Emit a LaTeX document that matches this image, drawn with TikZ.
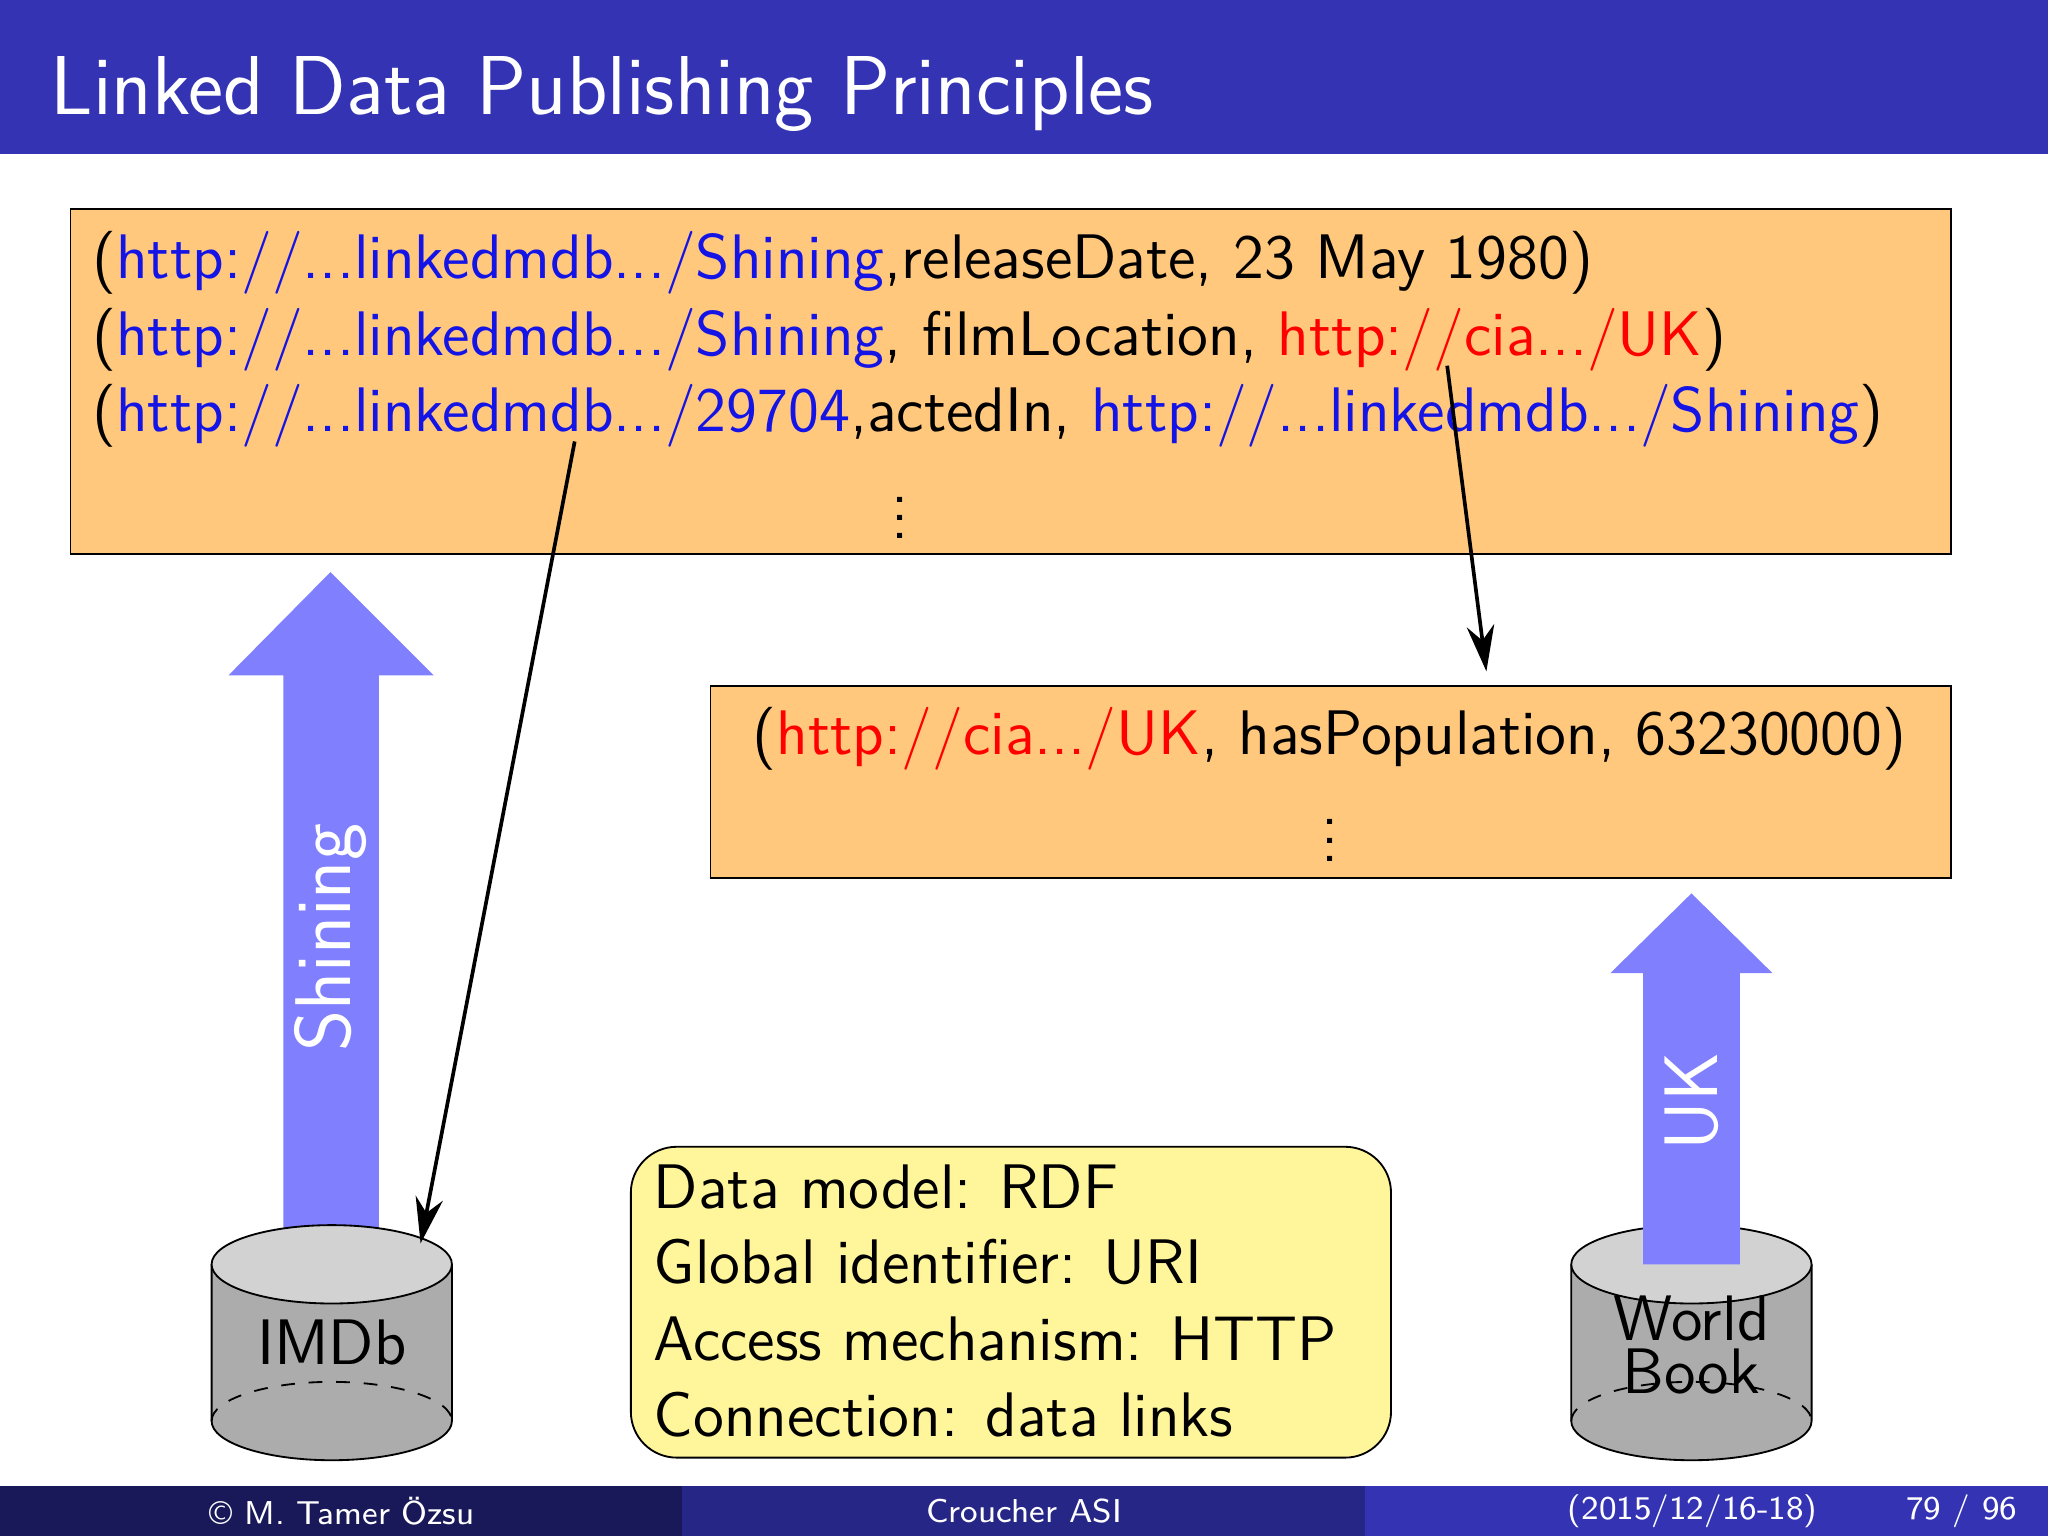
\documentclass[tikz,border=0pt]{standalone}
\usetikzlibrary{arrows.meta}
\begin{document}
\sffamily
\begin{tikzpicture}[x=0.01cm,y=-0.01cm,
  body/.style={font=\fontsize{13.7}{16.5}\selectfont},
  bigarrow/.style={fill=blue!50!white, draw=none},
  link/.style={-{Stealth[length=10pt,width=6pt]}, thick},
  foot/.style={font=\fontsize{7.2}{8}\selectfont, text=white}]
\useasboundingbox (0,0) rectangle (1568,1176);
\definecolor{bbar}{RGB}{51,51,179}
\definecolor{fdark}{RGB}{25,25,90}
\definecolor{fmid}{RGB}{38,38,135}
\definecolor{orng}{RGB}{255,200,125}
\definecolor{ylw}{RGB}{255,245,155}
\definecolor{bl}{RGB}{20,20,230}
% title
\fill[bbar] (0,0) rectangle (1568,118);
\node[anchor=base west, text=white, font=\fontsize{18.2}{20}\selectfont, inner sep=0] (title) at (38,88) {Linked Data Publishing Principles};
% box 1
\draw[fill=orng] (54,160) rectangle (1494,424);
\node[body, anchor=base west, inner sep=0] (l1) at (70,213) {(\textcolor{bl}{http://...linkedmdb.../Shining},releaseDate, 23 May 1980)};
\node[body, anchor=base west, inner sep=0] (l2) at (70,272) {(\textcolor{bl}{http://...linkedmdb.../Shining}, filmLocation, \textcolor{red}{http://cia.../UK})};
\node[body, anchor=base west, inner sep=0] (l3) at (70,330) {(\textcolor{bl}{http://...linkedmdb.../29704},actedIn, \textcolor{bl}{http://...linkedmdb.../Shining})};
\node[body, inner sep=0] (d1) at (689,386) {$\vdots$};
% box 2
\draw[fill=orng] (544,525) rectangle (1494,672);
\node[body, anchor=base, inner sep=0] (m1) at (1018,578) {(\textcolor{red}{http://cia.../UK}, hasPopulation, 63230000)};
\node[body, inner sep=0] (d2) at (1018,633) {$\vdots$};
% big arrows
\fill[bigarrow] (217,968) -- (217,517) -- (175,517) -- (253,438) -- (332,517) -- (290,517) -- (290,968) -- cycle;
\node[rotate=90, text=white, font=\fontsize{17.2}{18}\selectfont] (sh) at (253,718) {Shining};
% cylinders
\foreach \cx/\nm in {254/imdb,1295/wb}{
  \fill[gray!65] (\cx-92,968) -- (\cx-92,1088) arc[start angle=180,end angle=360,x radius=92,y radius=-30] -- (\cx+92,968) -- cycle;
  \draw (\cx-92,968) -- (\cx-92,1088) arc[start angle=180,end angle=360,x radius=92,y radius=-30] -- (\cx+92,968);
  \draw[dashed] (\cx-92,1088) arc[start angle=180,end angle=0,x radius=92,y radius=-30];
  \draw[fill=gray!35] (\cx,968) ellipse[x radius=92,y radius=30];
}
\fill[bigarrow] (1258,968) -- (1258,745) -- (1233,745) -- (1295,684) -- (1357,745) -- (1332,745) -- (1332,968) -- cycle;
\node[rotate=90, text=white, font=\fontsize{16.5}{18}\selectfont] (uk) at (1295,843) {UK};
\node[font=\fontsize{14}{15}\selectfont] (imdbl) at (254,1028) {IMDb};
\node[font=\fontsize{14}{11.5}\selectfont, align=center] (wbl) at (1295,1030) {World\\Book};
% yellow box
\draw[fill=ylw, rounded corners=10] (483,878) rectangle (1065,1116);
\node[body, anchor=base west, inner sep=0] (y1) at (500,925) {Data model: RDF};
\node[body, anchor=base west, inner sep=0] (y2) at (500,983) {Global identifier: URI};
\node[body, anchor=base west, inner sep=0] (y3) at (500,1042) {Access mechanism: HTTP};
\node[body, anchor=base west, inner sep=0] (y4) at (500,1100) {Connection: data links};
% links
\coordinate (a1s) at (440,338);
\coordinate (a1e) at (322,952);
\coordinate (a2s) at (1108,280);
\coordinate (a2e) at (1138,514);
\draw[link] (a1s) -- (a1e);
\draw[link] (a2s) -- (a2e);
% footer
\fill[fdark] (0,1138) rectangle (522,1176);
\fill[fmid] (522,1138) rectangle (1045,1176);
\fill[bbar] (1045,1138) rectangle (1568,1176);
\node[foot] (f1) at (262,1157) {\textcopyright\ M. Tamer Özsu};
\node[foot] (f2) at (784,1157) {Croucher ASI};
\node[foot] (f3) at (1296,1157) {(2015/12/16-18)};
\node[foot] (f4) at (1502,1157) {79 / 96};
\end{tikzpicture}
\end{document}
